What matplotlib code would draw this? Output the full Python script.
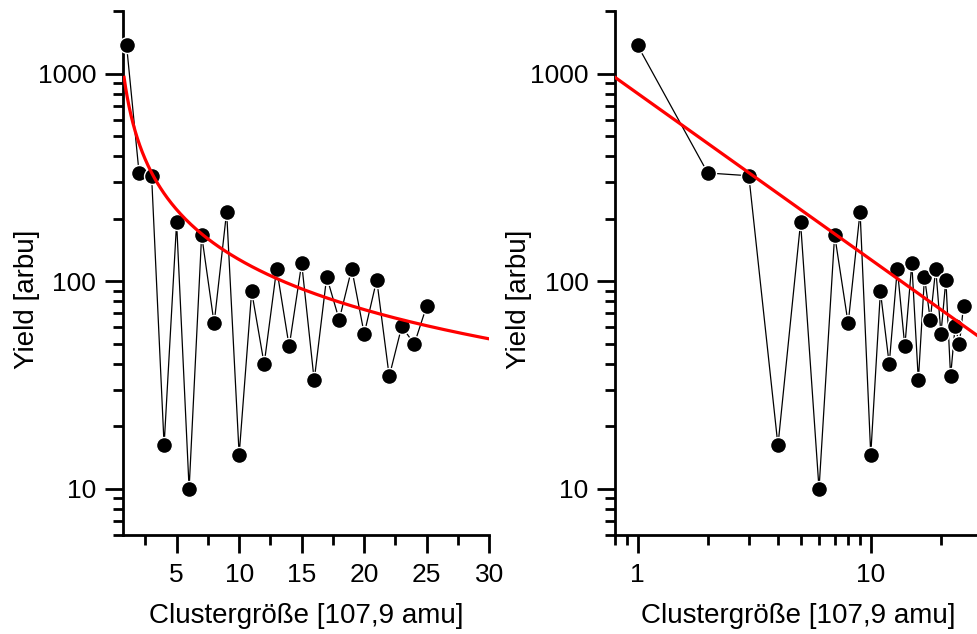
import numpy as np
import matplotlib
matplotlib.use("Agg")
import matplotlib.pyplot as plt
from matplotlib.ticker import FixedLocator, LogLocator, NullFormatter, FuncFormatter

plt.rcParams["font.family"] = ["Liberation Sans", "DejaVu Sans"]

# Data
cluster_size = np.arange(1, 26)
yield_arbu = [1366, 332, 322, 16.2, 192, 10.0, 167, 62.6, 216, 14.6,
              89.3, 39.9, 115, 48.5, 122, 33.3, 105, 65.2, 115, 55.8,
              101.6, 34.8, 60.6, 49.8, 76.2]

# Power-law fit y = A * x^-b
FIT_A = 802
FIT_B = 0.80
fit_x = np.geomspace(0.8, 30, 200)
fit_y = FIT_A * fit_x ** (-FIT_B)

Y_MIN = 6
Y_MAX = 2000
X_LABEL = "Clustergröße [107,9 amu]"
Y_LABEL = "Yield [arbu]"

W, H = 977, 634
fig = plt.figure(figsize=(W / 100, H / 100), dpi=100)


def style_axes(ax):
    ax.spines["top"].set_visible(False)
    ax.spines["right"].set_visible(False)
    ax.spines["left"].set_linewidth(2)
    ax.spines["bottom"].set_linewidth(2)
    ax.set_yscale("log")
    ax.set_ylim(Y_MIN, Y_MAX)
    ax.yaxis.set_major_locator(FixedLocator([10, 100, 1000]))
    ax.yaxis.set_major_formatter(FuncFormatter(lambda v, p: f"{v:g}"))
    ax.yaxis.set_minor_locator(LogLocator(base=10, subs=np.arange(2, 10)))
    ax.yaxis.set_minor_formatter(NullFormatter())
    ax.tick_params(which="major", length=13, width=2, labelsize=19, pad=6)
    ax.tick_params(which="minor", length=7, width=2)


def draw_data(ax):
    ax.plot(cluster_size, yield_arbu, color="black", lw=0.9, zorder=2)
    ax.plot(cluster_size, yield_arbu, "o", color="black", ms=11.5,
            mec="white", mew=1.0, zorder=3, clip_on=False)
    ax.plot(fit_x, fit_y, color="red", lw=2.3, zorder=4)


# Left panel: linear x
ax1 = fig.add_axes([122.7 / W, 1 - 535 / H, (489.3 - 122.7) / W, 524 / H])
style_axes(ax1)
draw_data(ax1)
ax1.set_xlim(0.69, 30)
ax1.xaxis.set_major_locator(FixedLocator([5, 10, 15, 20, 25, 30]))
ax1.xaxis.set_minor_locator(FixedLocator([2.5, 7.5, 12.5, 17.5, 22.5, 27.5]))
ax1.tick_params(axis="x", which="major", pad=7)

# Right panel: log x
ax2 = fig.add_axes([615 / W, 1 - 535 / H, (982 - 615) / W, 524 / H])
style_axes(ax2)
draw_data(ax2)
ax2.set_xscale("log")
ax2.set_xlim(0.8, 30)
ax2.xaxis.set_major_locator(FixedLocator([1, 10]))
ax2.xaxis.set_major_formatter(FuncFormatter(lambda v, p: f"{v:g}"))
ax2.xaxis.set_minor_locator(LogLocator(base=10, subs=np.arange(2, 10)))
ax2.xaxis.set_minor_formatter(NullFormatter())
ax2.tick_params(which="major", length=13, width=2, labelsize=19)
ax2.tick_params(which="minor", length=7, width=2)
ax2.tick_params(axis="x", which="major", pad=7)

# Axis labels
for x_center, y_axis_x in [(306, 27), (798.5, 519)]:
    fig.text(x_center / W, 1 - 623 / H, X_LABEL, ha="center",
             va="baseline", fontsize=20)
    fig.text(y_axis_x / W, 1 - 299 / H, Y_LABEL, ha="center",
             va="center", rotation=90, fontsize=20)

fig.savefig("out.png", dpi=100)
